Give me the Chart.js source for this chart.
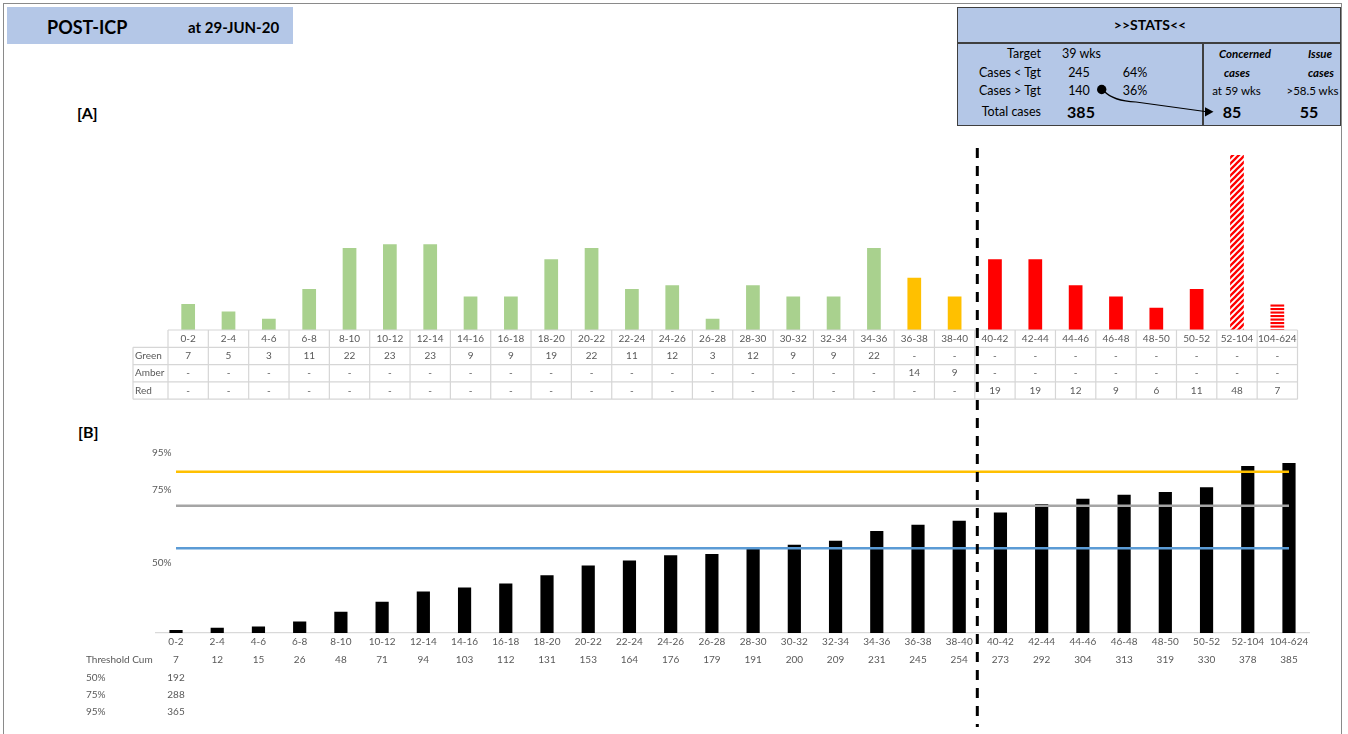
<!DOCTYPE html>
<html>
<head>
<meta charset="utf-8">
<title>POST-ICP at 29-JUN-20</title>
<script src="https://cdn.jsdelivr.net/npm/chart.js@4.4.1/dist/chart.umd.min.js"></script>
<style>
  html, body { margin: 0; padding: 0; background: #fff; }
  body { width: 1348px; height: 734px; position: relative; overflow: hidden;
         font-family: Lato, "Open Sans", "Liberation Sans", sans-serif; color: #000; }
  .frame { position: absolute; left: 3px; top: 3px; width: 1339px; height: 760px;
           box-sizing: border-box; border: 1.5px solid #8a8a8a; border-bottom: none; }
  .banner { position: absolute; left: 7px; top: 7px; width: 286px; height: 37px; background: #B4C7E7; }
  .stats { position: absolute; left: 957px; top: 7px; width: 384px; height: 119px; box-sizing: border-box;
           background: #B4C7E7; border: 1.5px solid #3f3f3f; }
  .hr { position: absolute; left: 957px; top: 41.5px; width: 384px; height: 2px; background: #3f3f3f; }
  .vr { position: absolute; left: 1202px; top: 43px; width: 2px; height: 83px; background: #3f3f3f; }
  .t { position: absolute; white-space: nowrap; line-height: 1; }
  .c { transform: translate(-50%, -50%); }
  .r { transform: translate(-100%, -50%); }
  .l { transform: translate(0, -50%); }
  .b { font-weight: 700; }
  .i { font-style: italic; }
  .s { font-size: 12.5px; }
  .s2 { font-size: 11.5px; }
  .big { font-size: 16px; font-weight: 700; }
  canvas { position: absolute; left: 0; }
  #chartA { top: 140px; }
  #chartB { top: 415px; }
  svg { position: absolute; left: 0; top: 0; }
</style>
</head>
<body>
<div class="frame"></div>

<div class="banner"></div>
<div class="t l b" style="left:47px; top:26.5px; font-size:18px;">POST-ICP</div>
<div class="t l b" style="left:188px; top:27px; font-size:15px;">at 29-JUN-20</div>

<div class="stats"></div>
<div class="hr"></div>
<div class="vr"></div>
<div class="t c b" style="left:1150px; top:25px; font-size:14px;">&gt;&gt;STATS&lt;&lt;</div>

<div class="t r s" style="left:1041px; top:54px;">Target</div>
<div class="t r s" style="left:1041px; top:72.7px;">Cases &lt; Tgt</div>
<div class="t r s" style="left:1041px; top:90.5px;">Cases &gt; Tgt</div>
<div class="t r s" style="left:1041px; top:112px;">Total cases</div>

<div class="t c s" id="tgtWeeks" style="left:1081.5px; top:54px;"></div>
<div class="t c s" id="belowCount" style="left:1079px; top:72.7px;"></div>
<div class="t c s" id="aboveCount" style="left:1079px; top:90.5px;"></div>
<div class="t c big" id="totalCount" style="left:1081px; top:112px;"></div>
<div class="t c s" id="belowPct" style="left:1135px; top:72.7px;"></div>
<div class="t c s" id="abovePct" style="left:1135px; top:90.5px;"></div>

<div class="t c s2 b i" style="left:1245px; top:54px;">Concerned</div>
<div class="t c s2 b i" style="left:1237px; top:72.7px;">cases</div>
<div class="t c s2" id="concernedAt" style="left:1236.5px; top:90.5px;"></div>
<div class="t c big" id="concernedCount" style="left:1232px; top:112px;"></div>
<div class="t c s2 b i" style="left:1320px; top:54px;">Issue</div>
<div class="t c s2 b i" style="left:1321px; top:72.7px;">cases</div>
<div class="t c s2" id="issueAt" style="left:1312.5px; top:90.5px;"></div>
<div class="t c big" id="issueCount" style="left:1309px; top:112px;"></div>

<svg width="1348" height="140" viewBox="0 0 1348 140">
  <circle cx="1101.7" cy="89.5" r="4.7" fill="#000"/>
  <path d="M1104 91 Q1113 101 1136 102 L1205 111.5" fill="none" stroke="#000" stroke-width="1.2"/>
  <polygon points="1213.5,111.8 1205,107.2 1205,116.4" fill="#000"/>
</svg>

<div class="t l b" style="left:77px; top:113px; font-size:16px;">[A]</div>
<div class="t l b" style="left:78px; top:432px; font-size:16px;">[B]</div>

<canvas id="chartA" width="1348" height="275"></canvas>
<canvas id="chartB" width="1348" height="319"></canvas>

<script>
// ---- weekly bins ----
const binLabels = ['0-2','2-4','4-6','6-8','8-10','10-12','12-14','14-16','16-18','18-20',
  '20-22','22-24','24-26','26-28','28-30','30-32','32-34','34-36','36-38','38-40',
  '40-42','42-44','44-46','46-48','48-50','50-52','52-104','104-624'];

// ---- case counts per bin, by RAG status ----
const greenCounts = [7,5,3,11,22,23,23,9,9,19,22,11,12,3,12,9,9,22,
  null,null,null,null,null,null,null,null,null,null];
const amberCounts = [null,null,null,null,null,null,null,null,null,null,null,null,null,null,null,null,null,null,
  14,9,null,null,null,null,null,null,null,null];
const redCounts = [null,null,null,null,null,null,null,null,null,null,null,null,null,null,null,null,null,null,null,null,
  19,19,12,9,6,11,48,7];

// ---- cumulative cases ----
const cumulativeCases = [7,12,15,26,48,71,94,103,112,131,153,164,176,179,191,200,209,231,245,254,
  273,292,304,313,319,330,378,385];

// ---- thresholds ----
const thresholdNames = ['50%','75%','95%'];
const thresholdCases = [192,288,365];

// percent labels on the cumulative axis
const percentTickValues = [158,325,408];
const percentTickLabels = ['50%','75%','95%'];

// ---- headline stats ----
const targetWeeks = 39;
const casesBelowTarget = 245;
const casesAboveTarget = 140;
const totalCases = 385;
const concernedWeeks = 59;
const concernedCases = 85;
const issueWeeks = 58.5;
const issueCases = 55;

// last bin inside the target
const targetBinIndex = 19;

document.getElementById('tgtWeeks').textContent = targetWeeks + ' wks';
document.getElementById('belowCount').textContent = casesBelowTarget;
document.getElementById('aboveCount').textContent = casesAboveTarget;
document.getElementById('totalCount').textContent = totalCases;
document.getElementById('belowPct').textContent = Math.round(casesBelowTarget / totalCases * 100) + '%';
document.getElementById('abovePct').textContent = Math.round(casesAboveTarget / totalCases * 100) + '%';
document.getElementById('concernedAt').textContent = 'at ' + concernedWeeks + ' wks';
document.getElementById('concernedCount').textContent = concernedCases;
document.getElementById('issueAt').textContent = '>' + issueWeeks + ' wks';
document.getElementById('issueCount').textContent = issueCases;

// ---- styling ----
const FONT = 'Lato, "Open Sans", sans-serif';
const tableText = '#595959';
const tableRule = '#D6D6D6';
const GREEN = '#A9D18E', AMBER = '#FFC000', RED = '#FF0000';
const lineColors = ['#5B9BD5', '#A5A5A5', '#FFC000'];
const stripedBins = { '52-104': 'diagonal', '104-624': 'horizontal' };

function makeStripes(kind) {
  const c = document.createElement('canvas');
  const g = c.getContext('2d');
  if (kind === 'diagonal') {
    c.width = 6; c.height = 6;
    g.fillStyle = '#fff'; g.fillRect(0, 0, 6, 6);
    g.strokeStyle = RED; g.lineWidth = 2.3;
    g.beginPath();
    g.moveTo(-1, 7); g.lineTo(7, -1);
    g.moveTo(-4, 4); g.lineTo(4, -4);
    g.moveTo(2, 10); g.lineTo(10, 2);
    g.stroke();
  } else {
    c.width = 4; c.height = 7;
    g.fillStyle = '#fff'; g.fillRect(0, 0, 4, 7);
    g.fillStyle = RED;
    g.fillRect(0, 0, 4, 2.1);
    g.fillRect(0, 3.5, 4, 2.1);
  }
  return g.createPattern(c, 'repeat');
}
const stripePatterns = { diagonal: makeStripes('diagonal'), horizontal: makeStripes('horizontal') };

function redFill(index) {
  const kind = stripedBins[binLabels[index]];
  return kind ? stripePatterns[kind] : RED;
}

let chartA = null, chartB = null;

// dashed target divider shared by both panels
function dividerX() {
  const charts = [chartA, chartB].filter(Boolean);
  if (charts.length < 2) return null;
  const xs = charts.map(c => {
    const s = c.scales.x;
    return (s.getPixelForValue(targetBinIndex) + s.getPixelForValue(targetBinIndex + 1)) / 2;
  });
  return xs.reduce((a, b) => a + b, 0) / xs.length;
}
const DASH = [10, 8];
function makeDivider(yTop, yBottom, dashOffset) {
  return {
    id: 'targetDivider',
    afterDraw(chart) {
      const x = dividerX();
      if (x === null) return;
      const ctx = chart.ctx;
      ctx.save();
      ctx.strokeStyle = '#000';
      ctx.lineWidth = 3;
      ctx.setLineDash(DASH);
      ctx.lineDashOffset = dashOffset;
      ctx.beginPath();
      ctx.moveTo(x, yTop);
      ctx.lineTo(x, yBottom(chart));
      ctx.stroke();
      ctx.restore();
    }
  };
}

// data table under panel A
const tableA = {
  id: 'tableA',
  afterDraw(chart) {
    const { ctx, chartArea, scales: { x } } = chart;
    const n = binLabels.length;
    const step = x.getPixelForValue(1) - x.getPixelForValue(0);
    const left = x.getPixelForValue(0) - step / 2;
    const right = x.getPixelForValue(n - 1) + step / 2;
    const headLeft = 133;
    const rowH = 17.3;
    const top = chartArea.bottom;
    const rows = [['Green', greenCounts], ['Amber', amberCounts], ['Red', redCounts]];
    const bottom = top + rowH * (rows.length + 1);

    ctx.save();
    ctx.strokeStyle = tableRule;
    ctx.lineWidth = 1.2;
    ctx.beginPath();
    ctx.moveTo(left, top); ctx.lineTo(right, top);
    for (let r = 1; r <= rows.length + 1; r++) {
      const y = top + rowH * r;
      ctx.moveTo(headLeft, y); ctx.lineTo(right, y);
    }
    for (let i = 0; i <= n; i++) {
      const xx = left + step * i;
      ctx.moveTo(xx, top); ctx.lineTo(xx, bottom);
    }
    ctx.moveTo(headLeft, top + rowH); ctx.lineTo(headLeft, bottom);
    ctx.stroke();

    ctx.fillStyle = tableText;
    ctx.font = '10px ' + FONT;
    ctx.textBaseline = 'middle';
    rows.forEach(([name, values], r) => {
      const y = top + rowH * (r + 1.5);
      ctx.textAlign = 'left';
      ctx.fillText(name, headLeft + 2, y);
      ctx.textAlign = 'center';
      values.forEach((v, i) => ctx.fillText(v == null ? '-' : String(v), x.getPixelForValue(i), y));
    });
    ctx.restore();
  }
};

// cumulative table under panel B
const tableB = {
  id: 'tableB',
  afterDraw(chart) {
    const { ctx, chartArea, scales: { x } } = chart;
    const labelLeft = 86;
    const firstRow = chartArea.bottom + 27;
    const rowH = 17.4;
    ctx.save();
    ctx.fillStyle = tableText;
    ctx.font = '10px ' + FONT;
    ctx.textBaseline = 'middle';
    ctx.textAlign = 'left';
    ctx.fillText('Threshold Cum', labelLeft, firstRow);
    thresholdNames.forEach((name, r) => ctx.fillText(name, labelLeft, firstRow + rowH * (r + 1)));
    ctx.textAlign = 'center';
    cumulativeCases.forEach((v, i) => ctx.fillText(String(v), x.getPixelForValue(i), firstRow));
    thresholdCases.forEach((v, r) => ctx.fillText(String(v), x.getPixelForValue(0), firstRow + rowH * (r + 1)));
    ctx.restore();
  }
};

const tickFont = { family: FONT, size: 10 };

chartA = new Chart(document.getElementById('chartA'), {
  type: 'bar',
  data: {
    labels: binLabels,
    datasets: [
      { label: 'Green', data: greenCounts, backgroundColor: GREEN },
      { label: 'Amber', data: amberCounts, backgroundColor: AMBER },
      { label: 'Red', data: redCounts, backgroundColor: ctx => redFill(ctx.dataIndex) }
    ]
  },
  options: {
    responsive: false,
    animation: false,
    layout: { padding: { left: 168, right: 50.5, top: 15, bottom: 0 } },
    plugins: { legend: { display: false }, tooltip: { enabled: false } },
    datasets: { bar: { barPercentage: 0.34, categoryPercentage: 1 } },
    scales: {
      x: {
        stacked: true,
        grid: { display: false, drawTicks: false },
        border: { display: false },
        ticks: { font: tickFont, color: tableText, padding: 2.5, maxRotation: 0, autoSkip: false },
        afterFit: s => { s.height = 85; }
      },
      y: { stacked: true, display: false, min: 0, max: 47 }
    }
  },
  plugins: [tableA, makeDivider(8, c => c.height, 0)]
});

chartB = new Chart(document.getElementById('chartB'), {
  type: 'bar',
  data: {
    labels: binLabels,
    datasets: [
      ...thresholdCases.map((v, i) => ({
        type: 'line',
        label: thresholdNames[i],
        data: [{ x: binLabels[0], y: v }, { x: binLabels[binLabels.length - 1], y: v }],
        borderColor: lineColors[i],
        borderWidth: 2.5,
        pointRadius: 0,
        order: 0
      })),
      {
        type: 'bar',
        label: 'Threshold Cum',
        data: cumulativeCases,
        backgroundColor: '#000',
        barPercentage: 0.32,
        categoryPercentage: 1,
        order: 1
      }
    ]
  },
  options: {
    responsive: false,
    animation: false,
    layout: { padding: { left: 155.4, right: 38.4, top: 32.5, bottom: 0 } },
    plugins: { legend: { display: false }, tooltip: { enabled: false } },
    scales: {
      x: {
        grid: { display: false, drawTicks: false },
        border: { display: true, color: '#D9D9D9', width: 1.2 },
        ticks: { font: tickFont, color: tableText, padding: 3, maxRotation: 0, autoSkip: false },
        afterFit: s => { s.height = 101; }
      },
      y: {
        min: 0, max: 420,
        grid: { display: false, drawTicks: false },
        border: { display: false },
        afterBuildTicks: s => { s.ticks = percentTickValues.map(v => ({ value: v })); },
        ticks: { font: tickFont, color: tableText, mirror: true, padding: -3.5, autoSkip: false,
                 callback: (v, i) => percentTickLabels[i] },
        afterFit: s => { s.width = 0; }
      }
    }
  },
  plugins: [tableB, makeDivider(0, () => 312, (275 - 8) % 18)]
});

chartA.draw();
chartB.draw();
</script>
</body>
</html>
